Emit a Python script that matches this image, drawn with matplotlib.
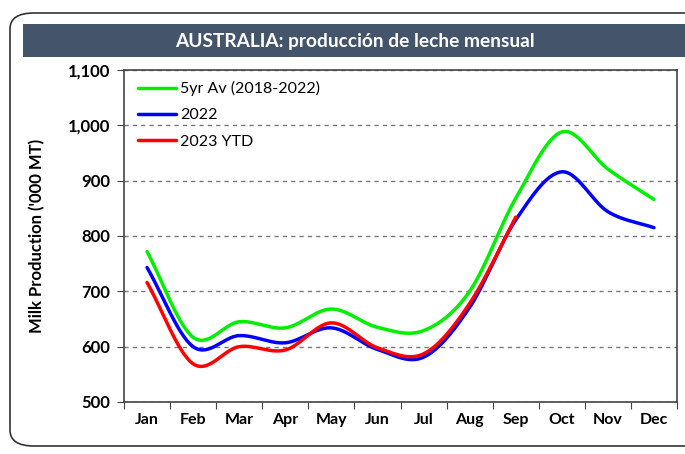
import numpy as np
import matplotlib
matplotlib.use("Agg")
import matplotlib.pyplot as plt
from matplotlib.patches import FancyBboxPatch, Rectangle
from matplotlib.ticker import FuncFormatter, FixedLocator, NullFormatter

plt.rcParams['font.family'] = ['Lato', 'DejaVu Sans']

months = ["Jan", "Feb", "Mar", "Apr", "May", "Jun", "Jul", "Aug", "Sep", "Oct", "Nov", "Dec"]
avg_5yr = [772, 617, 645, 634, 668, 635, 629, 700, 868, 988, 921, 866]
y2022 = [743, 600, 620, 607, 634, 595, 581, 671, 829, 916, 844, 815]
y2023 = [716, 569, 600, 594, 643, 598, 587, 678, 834]
series_labels = ["5yr Av (2018-2022)", "2022", "2023 YTD"]
title = "AUSTRALIA: producción de leche mensual"
ylabel = "Milk Production ('000 MT)"


def smooth(y, n=30):
    """Catmull-Rom style smoothing (like Excel 'smoothed line')."""
    y = np.asarray(y, float)
    x = np.arange(len(y), dtype=float)
    xs, ys = [], []
    for i in range(len(y) - 1):
        p0 = y[i - 1] if i > 0 else y[i]
        p1, p2 = y[i], y[i + 1]
        p3 = y[i + 2] if i + 2 < len(y) else y[i + 1]
        t = np.linspace(0, 1, n, endpoint=False)
        m1 = (p2 - p0) / (2 if i > 0 else 1)
        m2 = (p3 - p1) / (2 if i + 2 < len(y) else 1)
        h00 = 2 * t**3 - 3 * t**2 + 1
        h10 = t**3 - 2 * t**2 + t
        h01 = -2 * t**3 + 3 * t**2
        h11 = t**3 - t**2
        xs.append(x[i] + t)
        ys.append(h00 * p1 + h10 * m1 + h01 * p2 + h11 * m2)
    xs.append([x[-1]])
    ys.append([y[-1]])
    return np.concatenate(xs), np.concatenate(ys)


W, H = 685, 454
fig = plt.figure(figsize=(W / 100, H / 100), dpi=100)

# outer rounded frame
frame = FancyBboxPatch((10 / W, 8 / H), 700 / W, (H - 13 - 8) / H,
                       boxstyle="round,pad=0,rounding_size=0.035",
                       transform=fig.transFigure, fill=False,
                       edgecolor="#333333", linewidth=1.2, clip_on=False)
fig.patches.append(frame)

# title bar
bar = Rectangle((23 / W, 1 - 57 / H), (W - 23) / W, 33 / H,
                transform=fig.transFigure, facecolor="#44546A", edgecolor="none")
fig.patches.append(bar)
fig.text(355 / W, 1 - 41 / H, title, color="white", fontsize=13.8,
         fontweight="bold", ha="center", va="center")

ax = fig.add_axes([124 / W, 1 - 402 / H, 553 / W, 332 / H])

colors = ["#00EE00", "#0000FF", "#FF0000"]
for data, lab, c in zip([avg_5yr, y2022, y2023], series_labels, colors):
    xs, ys = smooth(data)
    ax.plot(xs, ys, color=c, linewidth=2.5, label=lab, solid_capstyle="round")

ax.set_xlim(-0.5, 11.5)
ax.set_ylim(500, 1100)
ax.set_yticks(np.arange(500, 1101, 100))
ax.yaxis.set_major_formatter(FuncFormatter(lambda v, p: f"{int(v):,}"))
ax.xaxis.set_major_locator(FixedLocator(np.arange(-0.5, 12, 1)))
ax.xaxis.set_major_formatter(NullFormatter())
ax.xaxis.set_minor_locator(FixedLocator(np.arange(12)))
ax.set_xticklabels(months, minor=True)
ax.tick_params(axis="x", which="minor", length=0, pad=8, labelsize=11.5)
ax.tick_params(axis="x", which="major", length=5, direction="out", color="#444444")
ax.tick_params(axis="y", length=5, direction="out", labelsize=12, color="#444444", pad=5)
for lbl in ax.get_xticklabels(minor=True) + ax.get_yticklabels():
    lbl.set_fontweight("bold")

ax.grid(axis="y", linestyle=(0, (3, 3)), color="#777777", linewidth=1.0)
for s in ax.spines.values():
    s.set_color("#444444")
    s.set_linewidth(1.2)

ax.set_ylabel(ylabel, fontsize=12, fontweight="bold", labelpad=16)

leg = ax.legend(loc="upper left", frameon=False, fontsize=11.5, handlelength=2.4,
                handletextpad=0.25, labelspacing=0.75, borderaxespad=0.3,
                bbox_to_anchor=(0.005, 1.0))

fig.savefig("out.png", dpi=100)
